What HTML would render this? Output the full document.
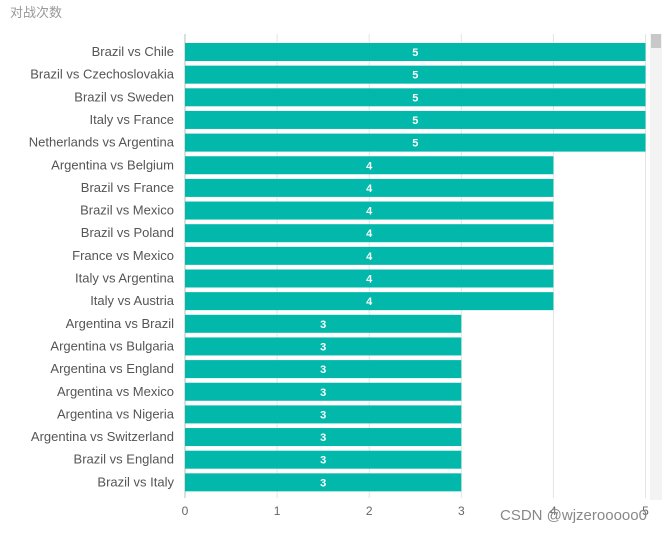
<!DOCTYPE html>
<html><head><meta charset="utf-8"><style>
body{margin:0;background:#fff;font-family:"Liberation Sans","Noto Sans CJK SC",sans-serif;}
svg text{font-family:"Liberation Sans","Noto Sans CJK SC",sans-serif;}
</style></head><body>
<svg id="c" width="668" height="532">
<text x="10" y="17" font-size="13" fill="#999">对战次数</text>
<rect x="650" y="34" width="12" height="466" fill="#f3f3f3"/>
<rect x="651" y="34" width="10" height="14" fill="#c8c8c8"/>
<g id="grid"></g><g id="bars"></g><g id="labels"></g><g id="ticks"></g>
<text x="500" y="520" font-size="15" fill="#888">CSDN @wjzerooooo0</text>
</svg>
<script>
const categories=["Brazil vs Chile","Brazil vs Czechoslovakia","Brazil vs Sweden","Italy vs France","Netherlands vs Argentina","Argentina vs Belgium","Brazil vs France","Brazil vs Mexico","Brazil vs Poland","France vs Mexico","Italy vs Argentina","Italy vs Austria","Argentina vs Brazil","Argentina vs Bulgaria","Argentina vs England","Argentina vs Mexico","Argentina vs Nigeria","Argentina vs Switzerland","Brazil vs England","Brazil vs Italy"];
const values=[5,5,5,5,5,4,4,4,4,4,4,4,3,3,3,3,3,3,3,3];
const tickValues=[0,1,2,3,4,5];
const NS="http://www.w3.org/2000/svg";
const x0=185,pxPer=92.1,top0=43,step=22.65,bh=18;
const xs=v=>x0+v*pxPer, ys=i=>top0+i*step;
function mk(t,a,p){const e=document.createElementNS(NS,t);for(const k in a)e.setAttribute(k,a[k]);p.appendChild(e);return e;}
const g=document.getElementById('grid'),b=document.getElementById('bars'),l=document.getElementById('labels'),tk=document.getElementById('ticks');
tickValues.forEach(v=>{
 const ln=mk('line',{x1:xs(v),x2:xs(v),y1:34,y2:498,stroke:v==0?'#bbb':'#e4e4e4'},g);
 
 
 const t=mk('text',{x:xs(v),y:515,'text-anchor':'middle','font-size':12,fill:'#666'},tk);t.textContent=v;
 
 
});
categories.forEach((c,i)=>{
 const y=ys(i);
 const r=mk('rect',{x:x0,y:y,width:xs(values[i])-x0,height:bh,fill:'#01b8aa'},b);
 
 
 const v=mk('text',{x:(x0+xs(values[i]))/2,y:y+13,'text-anchor':'middle','font-size':11,'font-weight':'bold',fill:'#fff'},b);v.textContent=values[i];
 
 
 const t=mk('text',{x:174,y:y+13,'text-anchor':'end','font-size':13,fill:'#555'},l);t.textContent=c;
 
 
});
</script>
</body></html>
